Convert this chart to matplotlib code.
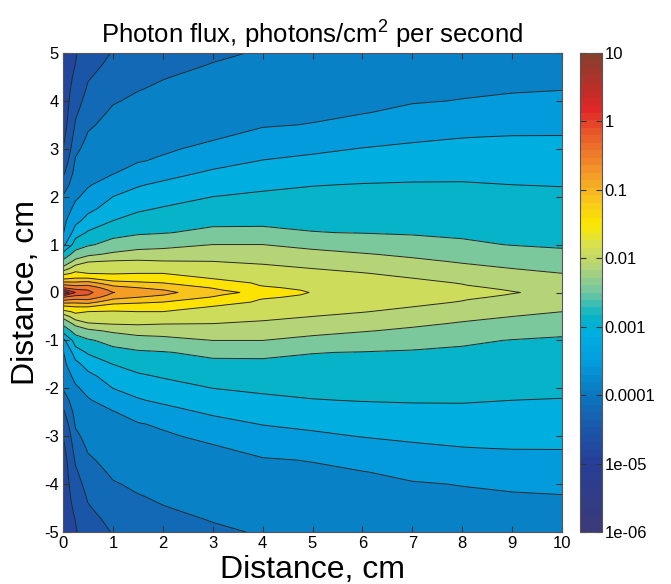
import numpy as np
import matplotlib
matplotlib.use('Agg')
import matplotlib.pyplot as plt
from matplotlib.colors import LinearSegmentedColormap, Normalize
from matplotlib.cm import ScalarMappable

plt.rcParams['font.family'] = ['Liberation Sans', 'DejaVu Sans']
plt.rcParams['mathtext.default'] = 'regular'
plt.rcParams['axes.unicode_minus'] = False
plt.rcParams['contour.negative_linestyle'] = 'solid'

# grid nodes (cm); field is symmetric about y = 0, upper half stored
x_pos = [0, 0.25, 0.5, 1, 1.5, 2, 3, 4, 5, 6, 7, 8, 9, 10]
y_half = [0, 0.05, 0.1, 0.15, 0.2, 0.3, 0.4, 0.5, 0.65, 0.8, 1.0, 1.25, 1.5,
          1.75, 2.0, 2.25, 2.5, 2.75, 3.0, 3.25, 3.5, 3.75, 4.0, 4.25, 4.5,
          4.75, 5.0]

# log10 of photon flux, one list per x node (values along y_half)
log_flux_by_x = [
    [0.60, 0.10, -0.30, -0.63, -0.90, -1.40, -1.82, -2.17, -2.64, -2.90, -3.40, -3.73, -3.81, -3.90,
     -3.98, -4.17, -4.37, -4.55, -4.71, -4.81, -4.90, -4.93, -4.95, -4.96, -4.97, -4.97, -4.98],
    [-0.01, -0.22, -0.47, -0.74, -0.93, -1.30, -1.63, -1.84, -2.18, -2.58, -2.86, -3.13, -3.40, -3.61,
     -3.75, -3.82, -3.90, -3.97, -4.06, -4.16, -4.26, -4.35, -4.44, -4.52, -4.61, -4.69, -4.73],
    [-0.20, -0.30, -0.50, -0.70, -0.89, -1.30, -1.70, -1.82, -2.02, -2.38, -2.75, -2.97, -3.18, -3.39,
     -3.60, -3.73, -3.79, -3.85, -3.91, -3.97, -4.04, -4.11, -4.18, -4.26, -4.33, -4.42, -4.50],
    [-0.69, -0.80, -0.91, -1.03, -1.18, -1.48, -1.73, -1.83, -1.98, -2.24, -2.57, -2.82, -3.00, -3.15,
     -3.30, -3.54, -3.72, -3.77, -3.81, -3.86, -3.91, -3.96, -4.02, -4.08, -4.15, -4.21, -4.28],
    [-0.81, -0.91, -1.00, -1.12, -1.25, -1.48, -1.70, -1.81, -1.97, -2.16, -2.45, -2.75, -2.90, -3.04,
     -3.18, -3.33, -3.57, -3.72, -3.77, -3.82, -3.86, -3.91, -3.96, -4.01, -4.07, -4.14, -4.20],
    [-0.93, -0.99, -1.09, -1.19, -1.30, -1.50, -1.70, -1.82, -1.99, -2.16, -2.40, -2.72, -2.85, -2.98,
     -3.11, -3.24, -3.43, -3.66, -3.74, -3.78, -3.83, -3.87, -3.92, -3.97, -4.01, -4.07, -4.13],
    [-1.16, -1.24, -1.32, -1.43, -1.53, -1.72, -1.80, -1.88, -2.00, -2.13, -2.30, -2.62, -2.78, -2.89,
     -3.00, -3.13, -3.25, -3.43, -3.63, -3.73, -3.77, -3.82, -3.86, -3.90, -3.95, -3.99, -4.04],
    [-1.42, -1.54, -1.65, -1.72, -1.75, -1.81, -1.88, -1.94, -2.04, -2.15, -2.30, -2.62, -2.77, -2.86,
     -2.95, -3.06, -3.17, -3.29, -3.45, -3.62, -3.72, -3.77, -3.81, -3.85, -3.89, -3.94, -3.98],
    [-1.72, -1.75, -1.78, -1.80, -1.83, -1.89, -1.94, -2.00, -2.11, -2.21, -2.39, -2.69, -2.77, -2.85,
     -2.93, -3.01, -3.12, -3.23, -3.36, -3.53, -3.69, -3.74, -3.78, -3.82, -3.87, -3.91, -3.95],
    [-1.79, -1.81, -1.84, -1.86, -1.89, -1.94, -1.99, -2.06, -2.17, -2.28, -2.48, -2.71, -2.78, -2.85,
     -2.92, -2.99, -3.09, -3.19, -3.29, -3.43, -3.58, -3.71, -3.75, -3.79, -3.84, -3.88, -3.92],
    [-1.86, -1.88, -1.91, -1.93, -1.95, -2.00, -2.06, -2.13, -2.24, -2.36, -2.57, -2.73, -2.79, -2.86,
     -2.92, -2.98, -3.07, -3.16, -3.25, -3.35, -3.49, -3.63, -3.72, -3.77, -3.81, -3.86, -3.90],
    [-1.92, -1.94, -1.96, -1.99, -2.01, -2.08, -2.15, -2.22, -2.33, -2.47, -2.65, -2.75, -2.81, -2.87,
     -2.92, -2.98, -3.06, -3.14, -3.22, -3.31, -3.44, -3.57, -3.69, -3.74, -3.79, -3.83, -3.88],
    [-1.99, -2.01, -2.04, -2.08, -2.11, -2.17, -2.24, -2.30, -2.43, -2.57, -2.71, -2.77, -2.83, -2.88,
     -2.94, -3.00, -3.07, -3.14, -3.22, -3.29, -3.41, -3.53, -3.64, -3.73, -3.77, -3.82, -3.87],
    [-2.05, -2.08, -2.11, -2.14, -2.17, -2.24, -2.30, -2.39, -2.52, -2.65, -2.73, -2.79, -2.84, -2.89,
     -2.95, -3.01, -3.08, -3.15, -3.22, -3.29, -3.39, -3.51, -3.62, -3.71, -3.76, -3.81, -3.86],
]

levels = [1e-5, 2e-5, 5e-5, 1e-4, 2e-4, 5e-4, 1e-3, 2e-3, 5e-3, 1e-2,
          2e-2, 5e-2, 0.1, 0.2, 0.5, 1, 2, 5]
cbar_ticks = [1e-6, 1e-5, 1e-4, 1e-3, 1e-2, 0.1, 1, 10]
cbar_labels = ['1e-06', '1e-05', '0.0001', '0.001', '0.01', '0.1', '1', '10']

# mirror the upper half to get the full field (contoured in log10 space)
x = np.array(x_pos)
yh = np.array(y_half)
y = np.concatenate([-yh[:0:-1], yh])
zh = np.array(log_flux_by_x).T
logz = np.vstack([zh[:0:-1], zh])
log_levels = np.log10(levels)

# jet-like map, muted ends (like the original figure)
anchors = [
    (0.000, '#3b3a7a'), (0.143, '#263f98'), (0.214, '#1a58aa'),
    (0.286, '#0b78c0'), (0.357, '#039fdf'), (0.414, '#00aee0'),
    (0.450, '#08b4c4'), (0.500, '#70c6a2'), (0.557, '#b6d476'),
    (0.600, '#d8e050'), (0.643, '#fde800'), (0.700, '#f8c21e'),
    (0.743, '#f4a026'), (0.793, '#ef7a2a'), (0.843, '#e8542a'),
    (0.886, '#e02626'), (0.936, '#b83028'), (1.000, '#8a3e2e'),
]
cmap = LinearSegmentedColormap.from_list('flux', anchors, N=64)
norm = Normalize(vmin=-6, vmax=1)

fig = plt.figure(figsize=(6.71, 5.84), dpi=100)
fig.patch.set_facecolor('white')
ax_h = 479 / 584
ax = fig.add_axes([63 / 671, 1 - 532 / 584, 499 / 671, ax_h])

ax.contourf(x, y, logz, levels=log_levels, cmap=cmap, norm=norm)
ax.contour(x, y, logz, levels=log_levels, colors='#262626', linewidths=0.7,
           linestyles='solid')

ax.set_xlim(0, 10)
ax.set_ylim(-5, 5)
ax.set_xticks(range(0, 11))
ax.set_yticks(range(-5, 6))
ax.tick_params(direction='in', top=True, right=True, length=4,
               labelsize=12, color='#333333', pad=3)
for s in ax.spines.values():
    s.set_color('#555555')
    s.set_linewidth(0.8)

ax.set_title('Photon flux, photons/cm$^2$ per second', fontsize=18.5, pad=7)

ax.set_xlabel('Distance, cm', fontsize=23)
ax.xaxis.label.set_verticalalignment('baseline')
ax.xaxis.set_label_coords(0.5, -(578 - 532) / 479)

ax.set_ylabel('Distance, cm', fontsize=23)
ax.yaxis.label.set_verticalalignment('center')
ax.yaxis.set_label_coords(-(63 - 26) / 499, 0.5)

cax = fig.add_axes([580 / 671, 1 - 532 / 584, 22 / 671, ax_h])
cb = fig.colorbar(ScalarMappable(norm=norm, cmap=cmap), cax=cax)
cb.set_ticks(np.log10(cbar_ticks))
cb.set_ticklabels(cbar_labels)
cax.tick_params(direction='in', left=True, right=True, length=4,
                labelsize=12, color='#333333', pad=2)
cb.outline.set_edgecolor('#555555')
cb.outline.set_linewidth(0.8)

fig.savefig('out.png', dpi=100, facecolor='white')
